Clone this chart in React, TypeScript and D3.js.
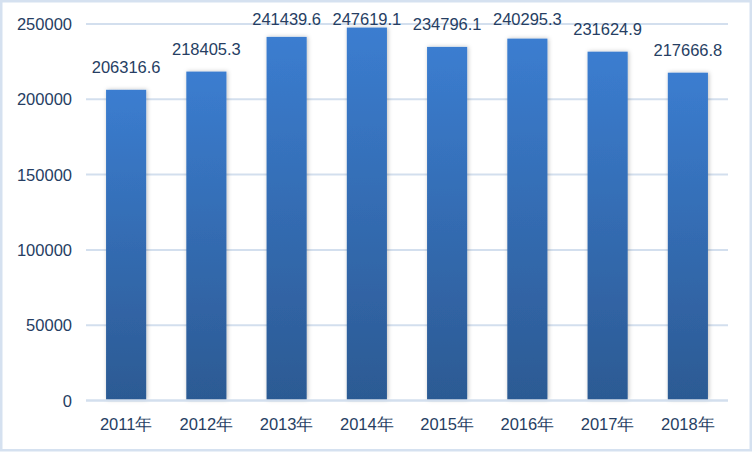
import React from "react";
import * as d3 from "d3";

const categories = ["2011年", "2012年", "2013年", "2014年", "2015年", "2016年", "2017年", "2018年"];
const values = [206316.6, 218405.3, 241439.6, 247619.1, 234796.1, 240295.3, 231624.9, 217666.8];
const yTicks = [0, 50000, 100000, 150000, 200000, 250000];

const W = 752;
const H = 452;
const FONT = "'Liberation Sans', Arial, sans-serif";
const TEXT = "#263e63";

export default function App() {
  const x = d3
    .scaleBand<string>()
    .domain(categories)
    .range([86, 728])
    .paddingInner(0.5)
    .paddingOuter(0.25);
  const y = d3.scaleLinear().domain([0, 250000]).range([400.5, 24]);

  return (
    <svg
      width={W}
      height={H}
      style={{ position: "fixed", left: 0, top: 0, display: "block" }}
    >
      <defs>
        <linearGradient id="barGrad" x1="0" y1="0" x2="0" y2="1">
          <stop offset="0" stopColor="#3b7dd0" />
          <stop offset="1" stopColor="#2c5a93" />
        </linearGradient>
        <filter id="shadow" x="-30%" y="-10%" width="160%" height="120%">
          <feDropShadow dx="1" dy="0" stdDeviation="2" floodColor="#000" floodOpacity="0.25" />
        </filter>
      </defs>
      <rect x={0} y={0} width={W} height={H} fill="#ffffff" />
      <rect x={1.25} y={1.25} width={W - 2.5} height={H - 3} fill="none" stroke="#d5e1f0" strokeWidth={2.5} />

      {yTicks.map((t) => (
        <g key={t}>
          <line x1={86} x2={728} y1={y(t)} y2={y(t)} stroke="#d3dfee" strokeWidth={2} />
          <text
            x={72}
            y={y(t)}
            textAnchor="end"
            dominantBaseline="central"
            fontFamily={FONT}
            fontSize={16.5}
            fill={TEXT}
          >
            {t}
          </text>
        </g>
      ))}

      {categories.map((c, i) => {
        const bx = x(c) as number;
        const bw = x.bandwidth();
        const top = y(values[i]);
        const labelY = Math.max(top - 17, 25);
        return (
          <g key={c}>
            <rect
              x={bx}
              y={top}
              width={bw}
              height={y(0) - 1 - top}
              fill="url(#barGrad)"
              filter="url(#shadow)"
            />
            <text
              x={bx + bw / 2}
              y={labelY}
              textAnchor="middle"
              fontFamily={FONT}
              fontSize={16.5}
              fill={TEXT}
            >
              {values[i].toFixed(1)}
            </text>
            <text
              x={bx + bw / 2}
              y={430}
              textAnchor="middle"
              fontFamily={FONT}
              fontSize={16.5}
              fill={TEXT}
            >
              {c}
            </text>
          </g>
        );
      })}
      <line x1={86} x2={728} y1={y(0)} y2={y(0)} stroke="#d3dfee" strokeWidth={2} />
    </svg>
  );
}
